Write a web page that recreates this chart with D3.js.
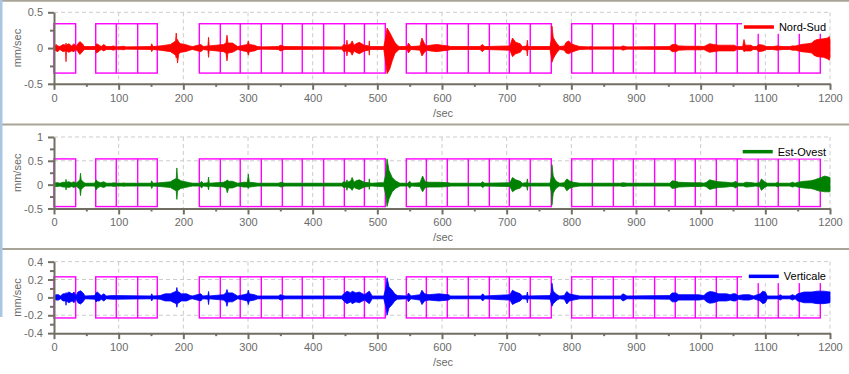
<!DOCTYPE html>
<html>
<head>
<meta charset="utf-8">
<script src="https://cdn.jsdelivr.net/npm/d3@7"></script>
<style>
body { margin: 0; background: #fff; }
svg text { font-family: "Liberation Sans", Arial, sans-serif; font-size: 11px; }
</style>
</head>
<body>
<div class="chart"></div>
<script>
// time axis
var xTicks = [0, 100, 200, 300, 400, 500, 600, 700, 800, 900, 1000, 1100, 1200];
var xMinor = [50, 150, 250, 350, 450, 550, 650, 750, 850, 950, 1050, 1150];

// y ticks per panel
var nsTicks = [-0.5, 0, 0.5];
var nsMinor = [-0.25, 0.25];
var eoTicks = [-0.5, 0, 0.5, 1];
var eoMinor = [-0.25, 0.25, 0.75];
var vTicks = [-0.4, -0.2, 0, 0.2, 0.4];
var vMinor = [-0.3, -0.1, 0.1, 0.3];

var seriesNames = ['Nord-Sud', 'Est-Ovest', 'Verticale'];
var seriesColors = ['#ff0000', '#008000', '#0000ff'];

// window edges (sec), one list per group of adjacent windows
var windowGroups = [
  [0, 33.5],
  [64.5, 96.3, 129.4, 159.7],
  [224.7, 257.2, 288, 320.6, 353.1, 383.9, 417, 449, 480, 512.3],
  [544.8, 575.8, 608.2, 640.7, 673.2, 704.1, 736.5, 769],
  [800.5, 832.5, 865, 895.9, 928.8, 960.7, 991.7, 1024.2, 1056.6, 1089, 1120, 1152.5, 1185]
];
var nsWindow = [-0.35, 0.34];
var eoWindow = [-0.46, 0.54];
var vWindow = [-0.23, 0.23];

// signal envelopes: [sec, max, min] (min omitted = -max)
var nsEnvelope = [
  [0,0.02],[3,0.05,-0.04],[6,0.03,-0.05],[9,0.02],[14,0.05],[18,0.04],[18.6,0.07,-0.19],[19.2,0.04],
  [23,0.06],[27,0.03,-0.04],[31,0.06,-0.05],[34,0.02],[37,0.06,-0.05],[40,0.09],[44,0.06,-0.05],[47,0.02],
  [64,0.02],[66,0.06,-0.07],[70,0.04],[73,0.02],[77,0.05,-0.04],[81,0.02],[88,0.02],[92,0.03],[96,0.015],
  [104,0.02],[108,0.025],[111,0.015],[150,0.02],[151,0.06,-0.05],[153,0.02],
  [164,0.03],[172,0.04],[180,0.05],[185,0.08],[188,0.1],[189,0.21,-0.14],[190,0.1],[191,0.12,-0.21],[193,0.08],[196,0.06],
  [203,0.05],[210,0.03],[214,0.02],[227,0.05],[231,0.02],[238,0.03],[239,0.15,-0.13],[240,0.03],
  [262,0.05],[266,0.07],[267.5,0.18],[269,0.07],[276,0.07,-0.06],[284,0.02],
  [293,0.04],[299,0.05],[300.5,0.1],[302,0.05],[310,0.04],[315,0.02],[322,0.015],
  [347,0.02],[350,0.04],[357,0.02],[445,0.015],[448,0.05],[452,0.04],[453,0.11],[454,0.04],
  [459,0.06],[461,0.1],[464,0.04],[467,0.06],[472,0.08],[480,0.04],[487,0.03],[487.6,0.1],[488.2,0.02],
  [492,0.02],[510,0.02],[513,0.15,-0.2],[515,0.28,-0.36],[519,0.22,-0.3],[523,0.15,-0.18],[527,0.08],
  [531,0.04],[534,0.02],[546,0.02],[548,0.07],[552,0.02],
  [566,0.03],[569,0.14,-0.11],[573,0.06],[576,0.03],[582,0.04],[592,0.05],[600,0.04],[610,0.03],[613,0.02],
  [659,0.02],[662,0.05],[666,0.02],[705,0.03],[709,0.14,-0.12],[714,0.08],[721,0.06],[724,0.02],
  [731,0.03],[732,0.11],[733,0.02],[767,0.02],[769,0.12],[770,0.31,-0.2],[772,0.15],[775,0.1],
  [778,0.06],[782,0.02],[789,0.03],[792,0.08,-0.07],[796,0.1,-0.08],[800,0.06],[806,0.04],[813,0.02],
  [827,0.015],[830,0.02],[833,0.015],[876,0.015],[880,0.03],[886,0.015],
  [952,0.02],[956,0.05],[962,0.05],[966,0.03],[980,0.025],[1000,0.025],[1005,0.02],
  [1009,0.04],[1014,0.06],[1020,0.05],[1028,0.04],[1040,0.04],[1052,0.04],[1056,0.02],
  [1065,0.02],[1067,0.12,-0.05],[1069,0.04],[1078,0.04],[1081,0.02],[1086,0.02],[1090,0.05],[1097,0.04],[1102,0.02],
  [1112,0.02],[1118,0.03],[1127,0.02],[1138,0.02],[1142,0.03],[1147,0.03],[1155,0.05],[1165,0.06],
  [1172,0.07],[1175,0.1],[1180,0.12],[1190,0.13],[1196,0.14,-0.15],[1199,0.16,-0.17],[1200,0.12]
];
var eoEnvelope = [
  [0,0.03],[3,0.04],[6,0.04],[9,0.03],[14,0.05],[18,0.05],[18.6,0.11],[19.2,0.05],
  [23,0.06],[27,0.04],[31,0.06],[34,0.03],[37,0.06],[40,0.1],[41,0.24,-0.23],[42,0.1],[45,0.06],[48,0.03],
  [63,0.03],[65,0.1,-0.11],[68,0.06],[72,0.04],[77,0.06],[81,0.03],[89,0.03],[93,0.04],[96,0.03],
  [105,0.03],[108,0.035],[111,0.03],[150,0.03],[151,0.08],[153,0.03],
  [164,0.04],[172,0.05],[180,0.06],[185,0.1],[189,0.13],[190,0.35,-0.31],[191,0.13],[196,0.08],[203,0.06],[210,0.04],[214,0.03],
  [226,0.03],[228,0.07],[231,0.03],[238,0.04],[239,0.16,-0.11],[240,0.03],
  [262,0.05],[266,0.07],[268,0.1,-0.17],[270,0.07],[276,0.07],[284,0.03],
  [293,0.05],[299,0.05],[300.5,0.22,-0.08],[302,0.05],[310,0.04],[315,0.03],
  [347,0.03],[351,0.05],[357,0.03],[445,0.03],[448,0.06],[452,0.05],[453,0.1,-0.12],[454,0.05],
  [459,0.08],[461,0.15,-0.12],[464,0.05],[467,0.08],[472,0.1],[480,0.05],[487,0.04],[487.6,0.12,-0.1],[488.2,0.03],
  [492,0.03],[504,0.04],[510,0.04],[513,0.2],[515,0.54,-0.46],[518,0.3],[523,0.15],[528,0.08],[535,0.03],
  [547,0.03],[550,0.07],[553,0.03],[566,0.04],[570,0.18,-0.15],[574,0.06],[580,0.05],[595,0.05],[610,0.04],[613,0.03],
  [660,0.03],[663,0.06],[666,0.03],[705,0.04],[709,0.15],[714,0.1],[721,0.07],[724,0.03],
  [731,0.04],[732,0.12],[733,0.03],[767,0.03],[769,0.15],[770,0.42,-0.43],[772,0.18],[775,0.1],[778,0.06],[782,0.03],
  [789,0.04],[793,0.12,-0.13],[797,0.08],[803,0.05],[813,0.03],[876,0.03],[880,0.04],[886,0.03],
  [952,0.03],[956,0.08],[962,0.07],[966,0.05],[985,0.04],[1000,0.04],[1005,0.03],
  [1009,0.05],[1014,0.1],[1020,0.08],[1028,0.06],[1040,0.05],[1046,0.04],[1050,0.04],[1054,0.07],[1058,0.03],
  [1066,0.03],[1070,0.05],[1080,0.04],[1084,0.03],[1091,0.04],[1094,0.12],[1099,0.06],[1103,0.03],
  [1116,0.03],[1119,0.05],[1122,0.03],[1138,0.03],[1142,0.05],[1146,0.03],[1150,0.05],[1160,0.07],
  [1170,0.08],[1176,0.1],[1182,0.13],[1192,0.18,-0.15],[1200,0.15]
];
var vEnvelope = [
  [0,0.016],[3,0.03],[7,0.03],[10,0.016],[14,0.04],[18,0.04],[18.6,0.054,-0.088],[19.2,0.04],
  [23,0.06],[28,0.04],[31,0.06],[34,0.016],[37,0.06],[41,0.074],[45,0.05],[48,0.016],
  [63,0.02],[65,0.05],[67,0.06,-0.04],[70,0.04],[73,0.02],[77,0.04],[81,0.016],[90,0.02],[95,0.02],
  [150,0.016],[151,0.04],[153,0.016],[164,0.02],[172,0.04],[180,0.04],[186,0.06],[189,0.07],[190,0.11],[191,0.07],
  [197,0.04],[205,0.04],[211,0.02],[214,0.016],[227,0.04],[230,0.016],[238,0.02],[239,0.066,-0.08],[240,0.016],
  [262,0.03],[266,0.05],[267.5,0.088,-0.1],[269,0.05],[276,0.05],[284,0.016],
  [293,0.03],[299,0.04],[300.5,0.08],[302,0.04],[310,0.03],[315,0.016],
  [347,0.016],[350,0.03],[357,0.016],[445,0.016],[448,0.04],[453,0.07],[459,0.05],[461,0.07],
  [467,0.05],[472,0.06],[480,0.03],[487.6,0.07],[492,0.016],[510,0.016],
  [513,0.1],[515,0.22,-0.2],[518,0.12],[523,0.08],[527,0.04],[531,0.02],
  [546,0.016],[548,0.05],[552,0.016],[566,0.03],[569,0.08],[573,0.04],[580,0.03],[595,0.04],[610,0.03],[613,0.016],
  [660,0.016],[663,0.04],[666,0.016],[705,0.03],[709,0.08],[714,0.06],[721,0.04],[724,0.016],
  [731,0.02],[732,0.06],[733,0.016],[767,0.02],[769,0.06],[770,0.16,-0.1],[772,0.07],[775,0.05],[778,0.03],[782,0.016],
  [789,0.02],[793,0.066,-0.074],[797,0.04],[803,0.03],[813,0.016],[876,0.016],[880,0.04],[886,0.016],
  [952,0.02],[956,0.05],[962,0.05],[966,0.03],[985,0.03],[997,0.03],[1005,0.02],
  [1009,0.05],[1014,0.065],[1020,0.06],[1028,0.04],[1040,0.04],[1046,0.03],[1050,0.04],[1054,0.04],[1058,0.02],
  [1066,0.03],[1075,0.03],[1082,0.016],[1092,0.04],[1096,0.07],[1100,0.06],[1103,0.016],
  [1120,0.016],[1123,0.03],[1126,0.016],[1138,0.016],[1142,0.03],[1146,0.016],[1150,0.04],[1160,0.06],
  [1172,0.06],[1180,0.07],[1190,0.07],[1200,0.06]
];

var panels = [
  { name: seriesNames[0], color: seriesColors[0], domain: [-0.5, 0.5], ticks: nsTicks, minor: nsMinor, win: nsWindow, data: nsEnvelope },
  { name: seriesNames[1], color: seriesColors[1], domain: [-0.5, 1], ticks: eoTicks, minor: eoMinor, win: eoWindow, data: eoEnvelope },
  { name: seriesNames[2], color: seriesColors[2], domain: [-0.4, 0.4], ticks: vTicks, minor: vMinor, win: vWindow, data: vEnvelope }
];

var width = 849, height = 374;
var panelH = 124.67, plotTop = 12.3, plotH = 71.5;
var axisColor = '#726e64', labelColor = '#6a6a6a', gridColor = '#cccccc';

var svg = d3.select('.chart')
            .append('svg')
            .attr('width', width)
            .attr('height', height);

var x = d3.scaleLinear().domain([0, 1200]).range([54, 830]);

panels.forEach(function(p, i) {
  var g = svg.append('g').attr('transform', 'translate(0,' + (i * panelH) + ')');
  var y = d3.scaleLinear().domain(p.domain).range([plotTop + plotH, plotTop]);

  // grid
  g.append('g').selectAll('line')
    .data(xTicks.slice(1))
    .enter().append('line')
    .attr('x1', function(d) { return x(d); })
    .attr('x2', function(d) { return x(d); })
    .attr('y1', plotTop)
    .attr('y2', plotTop + plotH)
    .attr('stroke', gridColor)
    .attr('stroke-dasharray', '4,3');
  g.append('g').selectAll('line')
    .data(p.ticks.slice(1))
    .enter().append('line')
    .attr('x1', x(0))
    .attr('x2', x(1200))
    .attr('y1', function(d) { return y(d); })
    .attr('y2', function(d) { return y(d); })
    .attr('stroke', gridColor)
    .attr('stroke-dasharray', '4,3');

  // analysis windows
  var wg = g.append('g')
    .attr('fill', 'none')
    .attr('stroke', '#ff00ff')
    .attr('stroke-width', 1.4);
  windowGroups.forEach(function(edges) {
    wg.append('rect')
      .attr('x', x(edges[0]))
      .attr('y', y(p.win[1]))
      .attr('width', x(edges[edges.length - 1]) - x(edges[0]))
      .attr('height', y(p.win[0]) - y(p.win[1]));
    wg.selectAll(null)
      .data(edges.slice(1, -1))
      .enter().append('line')
      .attr('x1', function(d) { return x(d); })
      .attr('x2', function(d) { return x(d); })
      .attr('y1', y(p.win[1]))
      .attr('y2', y(p.win[0]));
  });

  // signal
  var area = d3.area()
    .x(function(d) { return x(d[0]); })
    .y0(function(d) { return y(d.length > 2 ? d[2] : -d[1]); })
    .y1(function(d) { return y(d[1]); });
  g.append('path')
    .datum(p.data)
    .attr('d', area)
    .attr('fill', p.color)
    .attr('stroke', p.color)
    .attr('stroke-width', 0.8);
  g.append('line')
    .attr('x1', x(0)).attr('x2', x(1200))
    .attr('y1', y(0)).attr('y2', y(0))
    .attr('stroke', p.color)
    .attr('stroke-width', 2.4);

  // legend
  var lg = g.append('g');
  lg.append('rect')
    .attr('x', 742)
    .attr('y', plotTop + 1)
    .attr('width', 87)
    .attr('height', 20.5)
    .attr('fill', '#fff');
  var lt = lg.append('text')
    .attr('x', 826)
    .attr('y', plotTop + 14.7)
    .attr('dy', '0.35em')
    .attr('text-anchor', 'end')
    .attr('fill', '#000')
    .text(p.name);
  var tx = 826 - lt.node().getComputedTextLength();
  lg.append('line')
    .attr('x1', tx - 35).attr('x2', tx - 5)
    .attr('y1', plotTop + 14.7).attr('y2', plotTop + 14.7)
    .attr('stroke', p.color)
    .attr('stroke-width', 3.5);

  // axes
  g.append('g')
    .attr('transform', 'translate(0,' + (plotTop + plotH) + ')')
    .call(d3.axisBottom(x).tickValues(xTicks).tickSize(6).tickSizeOuter(0).tickPadding(4).tickFormat(d3.format('d')));
  g.append('g')
    .attr('transform', 'translate(0,' + (plotTop + plotH) + ')')
    .call(d3.axisBottom(x).tickValues(xMinor).tickSize(3).tickFormat(''))
    .select('.domain').remove();
  g.append('g')
    .attr('transform', 'translate(' + x(0) + ',0)')
    .call(d3.axisLeft(y).tickValues(p.ticks).tickSize(6).tickSizeOuter(0).tickPadding(5).tickFormat(function(d) { return String(d); }));
  g.append('g')
    .attr('transform', 'translate(' + x(0) + ',0)')
    .call(d3.axisLeft(y).tickValues(p.minor).tickSize(4).tickFormat(''))
    .select('.domain').remove();

  g.selectAll('.domain').attr('stroke', axisColor).attr('stroke-width', 2);
  g.selectAll('.tick line').attr('stroke', axisColor).attr('stroke-width', 2);
  g.selectAll('.tick text').attr('fill', labelColor).style('font-size', '11px').style('font-family', '"Liberation Sans", Arial, sans-serif');

  g.append('text')
    .attr('transform', 'translate(17,' + (plotTop + plotH / 2) + ') rotate(-90)')
    .attr('text-anchor', 'middle')
    .attr('dy', '0.35em')
    .attr('fill', labelColor)
    .text('mm/sec');
  g.append('text')
    .attr('x', 443)
    .attr('y', plotTop + plotH + 33)
    .attr('text-anchor', 'middle')
    .attr('fill', labelColor)
    .text('/sec');
});

// window frame bits
[0.7, 124.5, 249].forEach(function(yy) {
  svg.append('line')
    .attr('x1', 0).attr('x2', width)
    .attr('y1', yy).attr('y2', yy)
    .attr('stroke', '#a8a598')
    .attr('stroke-width', 2);
});
svg.append('rect')
  .attr('x', 0).attr('y', 0)
  .attr('width', 2.5).attr('height', 317)
  .attr('fill', '#a9c6e3');
</script>
</body>
</html>
